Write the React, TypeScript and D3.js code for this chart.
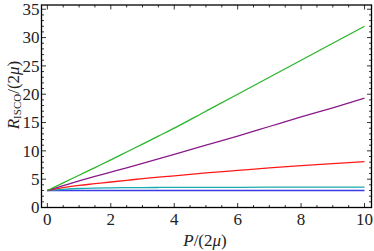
import React from "react";
import * as d3 from "d3";

const P = [0, 0.5, 1, 1.5, 2, 2.5, 3, 3.5, 4, 5, 6, 7, 8, 9, 10];
const greenR = [3, 4.35, 5.7, 7.05, 8.4, 9.8, 11.2, 12.6, 14.0, 17.0, 20.0, 23.0, 26.0, 29.0, 32.0];
const purpleR = [3, 3.85, 4.7, 5.5, 6.25, 7.0, 7.8, 8.6, 9.4, 11.0, 12.6, 14.3, 16.0, 17.6, 19.3];
const redR = [3, 3.5, 3.9, 4.2, 4.5, 4.8, 5.1, 5.35, 5.6, 6.1, 6.55, 7.0, 7.4, 7.75, 8.1];
const cyanR = [3, 3.2, 3.35, 3.43, 3.48, 3.5, 3.52, 3.535, 3.55, 3.56, 3.57, 3.58, 3.59, 3.6, 3.6];
const blueR = [3, 3, 3, 3, 3, 3, 3, 3, 3, 3, 3, 3, 3, 3, 3];

const xTicks = [0, 2, 4, 6, 8, 10];
const yTicks = [0, 5, 10, 15, 20, 25, 30, 35];

const series = [
  { values: blueR, color: "#3a3ae6" },
  { values: cyanR, color: "#1aabb0" },
  { values: redR, color: "#ff1a1a" },
  { values: purpleR, color: "#8a1a8a" },
  { values: greenR, color: "#2ab52a" },
];

export default function App() {
  const W = 374, H = 251;
  const left = 41.5, right = 371.5, top = 5, bottom = 207.5;
  const x = d3.scaleLinear().domain([-0.185, 10.22]).range([left, right]);
  const y = d3.scaleLinear().domain([0, 35.75]).range([bottom, top]);
  const line = d3.line<number>().x((_, i) => x(P[i])).y((v) => y(v)).curve(d3.curveMonotoneX);
  const font = "'Liberation Serif', 'Times New Roman', Times, serif";

  const xMinor = d3.range(0, 10.01, 0.5).filter((v) => v % 2 !== 0);
  const yMinor = d3.range(0, 35.01, 1).filter((v) => v % 5 !== 0);

  return (
    <svg width={W} height={H} style={{ position: "absolute", left: 0, top: 0, fontFamily: font }}>
      <rect x={0} y={0} width={W} height={H} fill="white" />
      <defs>
        <clipPath id="clip">
          <rect x={left} y={top} width={right - left} height={bottom - top} />
        </clipPath>
      </defs>
      <g clipPath="url(#clip)">
        {series.map((s, i) => (
          <path key={i} d={line(s.values) || ""} fill="none" stroke={s.color} strokeWidth={1.3} />
        ))}
      </g>
      <g stroke="black" strokeWidth={0.8}>
        {xTicks.map((t) => (
          <g key={"xt" + t}>
            <line x1={x(t)} x2={x(t)} y1={bottom} y2={bottom - 4.5} />
            <line x1={x(t)} x2={x(t)} y1={top} y2={top + 4.5} />
          </g>
        ))}
        {xMinor.map((t) => (
          <g key={"xm" + t}>
            <line x1={x(t)} x2={x(t)} y1={bottom} y2={bottom - 2.5} />
            <line x1={x(t)} x2={x(t)} y1={top} y2={top + 2.5} />
          </g>
        ))}
        {yTicks.map((t) => (
          <g key={"yt" + t}>
            <line x1={left} x2={left + 4.5} y1={y(t)} y2={y(t)} />
            <line x1={right} x2={right - 4.5} y1={y(t)} y2={y(t)} />
          </g>
        ))}
        {yMinor.map((t) => (
          <g key={"ym" + t}>
            <line x1={left} x2={left + 2.5} y1={y(t)} y2={y(t)} />
            <line x1={right} x2={right - 2.5} y1={y(t)} y2={y(t)} />
          </g>
        ))}
      </g>
      <rect x={left} y={top} width={right - left} height={bottom - top} fill="none" stroke="black" strokeWidth={1.3} />
      <g fontSize={17} fill="#222">
        {xTicks.map((t) => (
          <text key={"xl" + t} x={x(t)} y={225} textAnchor="middle">{t}</text>
        ))}
        {yTicks.map((t) => (
          <text key={"yl" + t} x={39.5} y={y(t) + 5.8} textAnchor="end">{t}</text>
        ))}
      </g>
      <text x={205} y={246} textAnchor="middle" fontSize={17} fill="#222">
        <tspan fontStyle="italic">P</tspan>/(2<tspan fontStyle="italic">μ</tspan>)
      </text>
      <text transform="translate(18.5,95) rotate(-90)" textAnchor="middle" fontSize={17} fill="#222">
        <tspan fontStyle="italic">R</tspan>
        <tspan fontSize={11} dy={2.5}>ISCO</tspan>
        <tspan dy={-2.5}>/(2</tspan>
        <tspan fontStyle="italic">μ</tspan>
        <tspan>)</tspan>
      </text>
    </svg>
  );
}
